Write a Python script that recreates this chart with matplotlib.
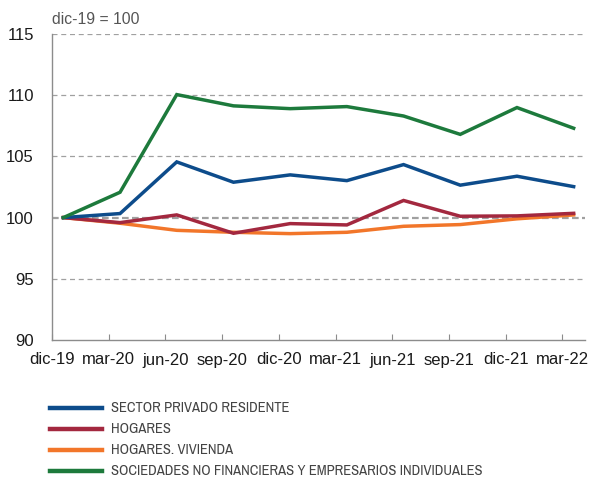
import matplotlib
matplotlib.use("Agg")
import matplotlib.pyplot as plt
from matplotlib.lines import Line2D
from matplotlib import font_manager

periods = ["dic-19", "mar-20", "jun-20", "sep-20", "dic-20", "mar-21", "jun-21", "sep-21", "dic-21", "mar-22"]
sector_privado = [100, 100.33, 104.55, 102.89, 103.49, 103.02, 104.33, 102.65, 103.38, 102.53]
hogares = [100, 99.59, 100.22, 98.72, 99.51, 99.40, 101.40, 100.11, 100.14, 100.35]
hogares_vivienda = [100, 99.54, 98.96, 98.80, 98.69, 98.80, 99.29, 99.43, 99.90, 100.22]
sociedades = [100, 102.07, 110.05, 109.13, 108.90, 109.07, 108.30, 106.80, 108.99, 107.30]

series_names = ["SECTOR PRIVADO RESIDENTE", "HOGARES", "HOGARES. VIVIENDA",
                "SOCIEDADES NO FINANCIERAS Y EMPRESARIOS INDIVIDUALES"]
colors = ["#0d4c8b", "#a3283f", "#f2762a", "#1d7a3c"]

# find a condensed font if one exists
cond_family, cond_stretch = None, "normal"
for f in font_manager.fontManager.ttflist:
    n = f.name.lower()
    if "narrow" in n or "condensed" in n:
        cond_family, cond_stretch = f.name, f.stretch
        break

plt.rcParams["font.family"] = ["Liberation Sans", "DejaVu Sans"]

fig = plt.figure(figsize=(5.95, 4.8), dpi=100)
ax = fig.add_axes([52/595, 1-340/480, (585-52)/595, (340-34)/480])

x = list(range(len(periods)))

ax.axhline(100, color="#a0a0a0", lw=1.6, ls=(0, (3, 1.5)), zorder=1)
for yv in [95, 105, 110, 115]:
    ax.axhline(yv, color="#a0a0a0", lw=0.9, ls=(0, (4, 3)), zorder=1)

order = [2, 1, 0, 3]
all_series = [sector_privado, hogares, hogares_vivienda, sociedades]
for i in order:
    ax.plot(x, all_series[i], color=colors[i], lw=2.5, zorder=3, solid_joinstyle="miter")

ax.set_xlim(-0.2, 9.2)
ax.set_ylim(90, 115)
ax.set_yticks([90, 95, 100, 105, 110, 115])
ax.set_xticks([i - 0.2 for i in x])
ax.set_xticklabels(periods)
for s in ["top", "right"]:
    ax.spines[s].set_visible(False)
for s in ["left", "bottom"]:
    ax.spines[s].set_color("#8c8c8c")
    ax.spines[s].set_linewidth(1.0)
ax.tick_params(axis="y", length=0, labelsize=12, pad=13, labelcolor="#1a1a1a")
ax.tick_params(axis="x", length=4, direction="in", color="#8c8c8c", labelsize=12, pad=9, labelcolor="#1a1a1a")

fig.text(52/595, 1-20/480, "dic-19 = 100", fontsize=11.3, color="#555555", va="center", ha="left")

ys = [408, 429, 450, 471]
for name, c, yp in zip(series_names, colors, ys):
    fy = 1 - yp/480
    fig.add_artist(Line2D([50/595, 102/595], [fy, fy], color=c, lw=3.2, transform=fig.transFigure))
    if cond_family is not None:
        fig.text(111/595, fy, name, fontsize=10.5, color="#444444", va="center", ha="left",
                 family=[cond_family, "DejaVu Sans"], fontstretch=cond_stretch)
    else:
        fig.text(111/595, fy, name, fontsize=8.4, color="#444444", va="center", ha="left")

fig.savefig("out.png", dpi=100)
